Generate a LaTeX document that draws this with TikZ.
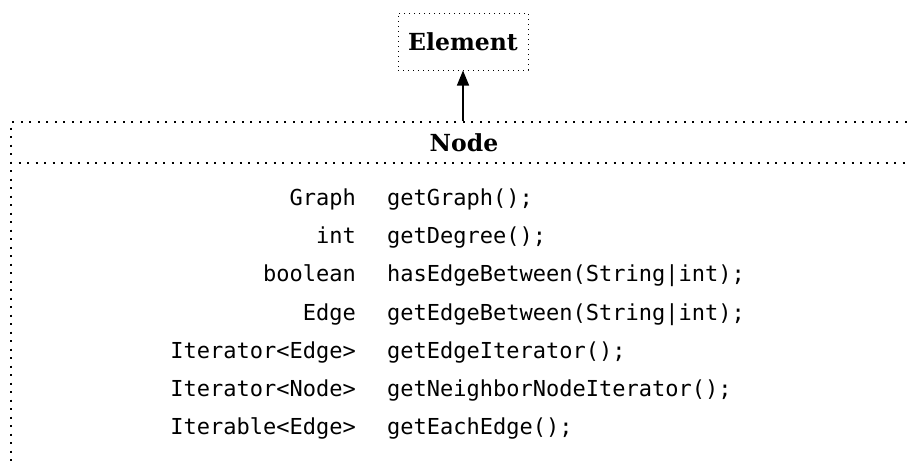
\documentclass[tikz,border=0pt]{standalone}
\usepackage{fontspec}
\setmainfont{DejaVu Serif}
\newfontfamily\codefont{DejaVu Sans Mono}
\usetikzlibrary{arrows.meta}
\tikzset{
  superbox/.style={draw, line width=1pt, dash pattern=on 1pt off 4pt,
    minimum width=130pt, minimum height=57pt,
    font=\fontsize{23.5}{27}\selectfont\bfseries},
  classbox/.style={draw, line width=2pt, dash pattern=on 2pt off 6.5pt,
    minimum width=930pt, minimum height=370pt, anchor=north west, inner sep=0pt},
  classline/.style={line width=2pt, dash pattern=on 2pt off 6.5pt},
  title/.style={font=\fontsize{23.5}{27}\selectfont\bfseries, anchor=base},
  rettype/.style={font=\codefont\fontsize{22}{26}\selectfont, anchor=base east, inner sep=0pt},
  method/.style={font=\codefont\fontsize{22}{26}\selectfont, anchor=base west, inner sep=0pt},
  inherit/.style={-{Triangle[length=15pt,width=12pt]}, line width=1.3pt}
}
\begin{document}
\begin{tikzpicture}[x=1pt,y=-1pt]
\useasboundingbox (0,0) rectangle (907,463);
\clip (0,0) rectangle (907,463);
% superclass
\node[superbox] (element) at (463,41.5) {Element};
% class box, cut off at the page edge
\node[classbox] (nodebox) at (10,121) {};
\node[title] (nodetitle) at (464,151) {Node};
\coordinate (sep) at (10,163);
\draw[classline] (sep) -- (sep -| nodebox.east);
% members
\node[rettype] (t1) at (356,205) {Graph};
\node[method] (m1) at (387,205) {getGraph();};
\node[rettype] (t2) at (356,243) {int};
\node[method] (m2) at (387,243) {getDegree();};
\node[rettype] (t3) at (356,281) {boolean};
\node[method] (m3) at (387,281) {hasEdgeBetween(String|int);};
\node[rettype] (t4) at (356,320) {Edge};
\node[method] (m4) at (387,320) {getEdgeBetween(String|int);};
\node[rettype] (t5) at (356,358) {Iterator<Edge>};
\node[method] (m5) at (387,358) {getEdgeIterator();};
\node[rettype] (t6) at (356,396) {Iterator<Node>};
\node[method] (m6) at (387,396) {getNeighborNodeIterator();};
\node[rettype] (t7) at (356,434) {Iterable<Edge>};
\node[method] (m7) at (387,434) {getEachEdge();};
% inheritance
\draw[inherit] (element.south |- nodebox.north) -- (element.south);
\end{tikzpicture}
\end{document}
